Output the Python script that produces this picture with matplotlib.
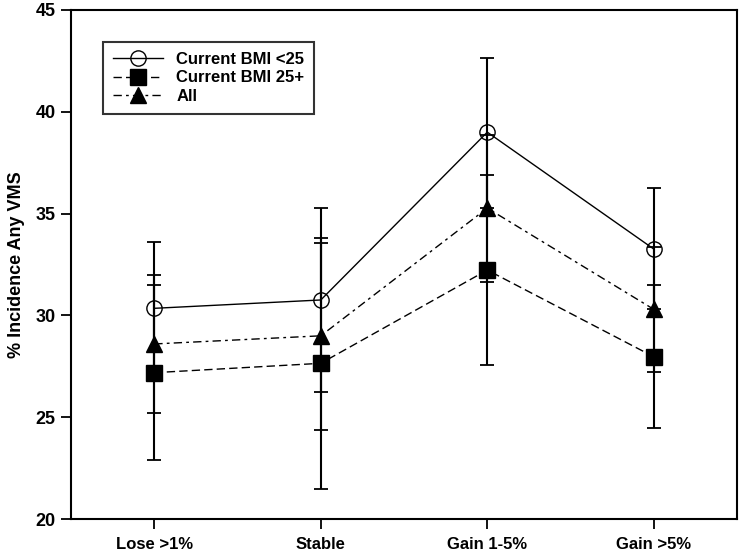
import matplotlib
matplotlib.use('Agg')
import matplotlib.pyplot as plt
import numpy as np

plt.rcParams['font.family'] = ['Liberation Sans', 'DejaVu Sans']
plt.rcParams['font.weight'] = 'bold'

categories = ['Lose >1%', 'Stable', 'Gain 1-5%', 'Gain >5%']

bmi_lt25 = [30.35, 30.76, 39.0, 33.26]
bmi_lt25_low = [27.1, 26.25, 35.3, 30.3]
bmi_lt25_high = [33.6, 35.26, 42.65, 36.24]

bmi_25p = [27.19, 27.65, 32.23, 27.97]
bmi_25p_low = [22.9, 21.5, 27.56, 24.45]
bmi_25p_high = [31.5, 33.8, 36.9, 31.49]

all_vals = [28.6, 29.0, 35.27, 30.3]
all_low = [25.2, 24.37, 31.66, 27.24]
all_high = [32.0, 33.56, 38.85, 33.36]

x = np.arange(1, len(categories) + 1)

fig = plt.figure(figsize=(7.4, 5.54), dpi=100)
ax = fig.add_axes([0.096, 0.063, 0.9, 0.919])


def series(vals, low, high, marker, ls, face, label, z):
    vals = np.array(vals)
    err = [vals - np.array(low), np.array(high) - vals]
    ax.errorbar(x, vals, yerr=err, fmt='none', ecolor='black', elinewidth=1.5,
                capsize=5, capthick=1.3, zorder=z)
    ax.plot(x, vals, color='black', linestyle=ls, linewidth=1.0, marker=marker,
            markersize=11, markerfacecolor=face, markeredgecolor='black',
            markeredgewidth=1.0, label=label, zorder=z + 1)


series(bmi_lt25, bmi_lt25_low, bmi_lt25_high, 'o', '-', 'none', 'Current BMI <25', 2)
series(bmi_25p, bmi_25p_low, bmi_25p_high, 's', (0, (6, 3)), 'black', 'Current BMI 25+', 2)
series(all_vals, all_low, all_high, '^', (0, (6, 3, 2, 3)), 'black', 'All', 2)

ax.set_xlim(0.5, 4.5)
ax.set_ylim(20, 45)
ax.set_yticks([20, 25, 30, 35, 40, 45])
ax.set_xticks(x)
ax.set_xticklabels(categories)
ax.tick_params(axis='both', direction='out', length=7, width=1.3, labelsize=12)
ax.tick_params(axis='y', labelsize=13, pad=4)
ax.tick_params(axis='x', pad=6)
ax.set_ylabel('% Incidence Any VMS', fontsize=13, fontweight='bold', labelpad=8)
for s in ax.spines.values():
    s.set_linewidth(1.5)

leg = ax.legend(loc='upper left', bbox_to_anchor=(0.048, 0.937), fontsize=12,
                frameon=True, fancybox=False, edgecolor='black', borderpad=0.6,
                handlelength=3, labelspacing=0.2, borderaxespad=0)
leg.get_frame().set_linewidth(1.5)

fig.savefig('out.png', dpi=100)
